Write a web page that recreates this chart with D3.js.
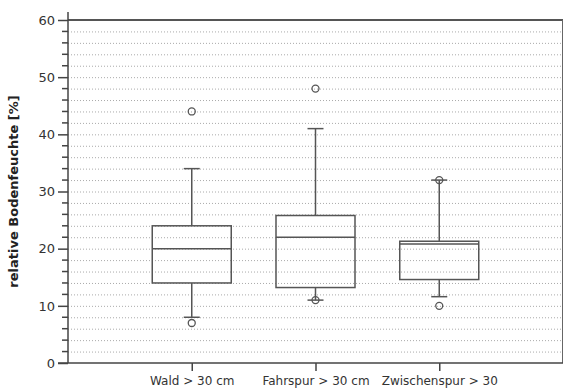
<!DOCTYPE html>
<html>
<head>
<meta charset="utf-8">
<script src="https://cdn.jsdelivr.net/npm/d3@7"></script>
<style>
  body { margin: 0; background: #fff; }
  text { font-family: "DejaVu Sans", sans-serif; }
</style>
</head>
<body>
<div id="chart"></div>
<script>
// box stats
const categories = ["Wald > 30 cm", "Fahrspur > 30 cm", "Zwischenspur > 30"];
const q1 = [14, 13.2, 14.6];
const median = [20, 22, 20.8];
const q3 = [24, 25.8, 21.3];
const whiskLow = [8, 11, 11.6];
const whiskHigh = [34, 41, 32];
const outliers = [[44, 7], [48, 11], [32, 10]];
const yTicks = [0, 10, 20, 30, 40, 50, 60];

const W = 564, H = 390;
const margin = {top: 20, right: 1, bottom: 27, left: 68};
const width = W - margin.left - margin.right,
      height = H - margin.top - margin.bottom;

const svg = d3.select("#chart").append("svg")
    .attr("width", W).attr("height", H)
    .append("g")
    .attr("transform", `translate(${margin.left}, ${margin.top})`);

const y = d3.scaleLinear().domain([0, 60]).range([height, 0]);
const x = d3.scalePoint().domain(categories).range([0, width]).padding(1);

const boxW = 79, capW = 16;
const lineCol = "#555";

// dotted grid every 2
svg.selectAll(".grid")
    .data(d3.range(2, 60, 2))
    .enter().append("line")
    .attr("x1", 0).attr("x2", width)
    .attr("y1", d => y(d) + 0.5).attr("y2", d => y(d) + 0.5)
    .attr("stroke", "#aaa")
    .attr("stroke-width", 1)
    .attr("stroke-dasharray", "1,2");

// top + right frame
svg.append("line").attr("x1", 0).attr("x2", width)
    .attr("y1", y(60)).attr("y2", y(60))
    .attr("stroke", "#555").attr("stroke-width", 2);
svg.append("line").attr("x1", width - 0.5).attr("x2", width - 0.5)
    .attr("y1", y(60)).attr("y2", height)
    .attr("stroke", "#666").attr("stroke-width", 1);

// y axis, major + minor
const yAxis = svg.append("g")
    .call(d3.axisLeft(y).tickValues(yTicks).tickSize(10).tickPadding(3))
yAxis.select(".domain").remove();
yAxis.selectAll(".tick line").attr("stroke", "#444").attr("stroke-width", 1.5);
yAxis.selectAll("text").attr("font-size", 13).attr("fill", "#333");

svg.selectAll(".minor")
    .data(d3.range(0, 61, 2).filter(d => d % 10 != 0))
    .enter().append("line")
    .attr("x1", -6).attr("x2", 0)
    .attr("y1", d => y(d)).attr("y2", d => y(d))
    .attr("stroke", "#444").attr("stroke-width", 1.5);

svg.append("line").attr("x1", 0).attr("x2", 0)
    .attr("y1", -8).attr("y2", height)
    .attr("stroke", "#444").attr("stroke-width", 1.5);

// x axis
const xAxis = svg.append("g")
    .attr("transform", `translate(0, ${height})`)
    .call(d3.axisBottom(x).tickSize(8).tickPadding(5));
xAxis.select(".domain").remove();
xAxis.selectAll(".tick line").attr("stroke", "#444").attr("stroke-width", 1.5);
xAxis.selectAll("text").attr("font-size", 12).attr("fill", "#333");
svg.append("line").attr("x1", -10).attr("x2", width)
    .attr("y1", height).attr("y2", height)
    .attr("stroke", "#444").attr("stroke-width", 1.5);

// y label
svg.append("text")
    .attr("transform", `translate(${-50}, ${height / 2}) rotate(-90)`)
    .attr("text-anchor", "middle")
    .attr("font-size", 13)
    .attr("font-weight", "bold")
    .attr("fill", "#222")
    .text("relative Bodenfeuchte [%]");

// boxes
const boxes = svg.selectAll(".box")
    .data(categories)
    .enter().append("g")
    .attr("class", "box");

boxes.append("line")
    .attr("x1", d => x(d)).attr("x2", d => x(d))
    .attr("y1", (d, i) => y(whiskHigh[i])).attr("y2", (d, i) => y(q3[i]))
    .attr("stroke", lineCol).attr("stroke-width", 1.5);
boxes.append("line")
    .attr("x1", d => x(d)).attr("x2", d => x(d))
    .attr("y1", (d, i) => y(q1[i])).attr("y2", (d, i) => y(whiskLow[i]))
    .attr("stroke", lineCol).attr("stroke-width", 1.5);
[whiskHigh, whiskLow].forEach(arr => {
    boxes.append("line")
        .attr("x1", d => x(d) - capW / 2).attr("x2", d => x(d) + capW / 2)
        .attr("y1", (d, i) => y(arr[i])).attr("y2", (d, i) => y(arr[i]))
        .attr("stroke", lineCol).attr("stroke-width", 1.5);
});
boxes.append("rect")
    .attr("x", d => x(d) - boxW / 2)
    .attr("y", (d, i) => y(q3[i]))
    .attr("width", boxW)
    .attr("height", (d, i) => y(q1[i]) - y(q3[i]))
    .attr("fill", "none")
    .attr("stroke", lineCol).attr("stroke-width", 1.5);
boxes.append("line")
    .attr("x1", d => x(d) - boxW / 2).attr("x2", d => x(d) + boxW / 2)
    .attr("y1", (d, i) => y(median[i])).attr("y2", (d, i) => y(median[i]))
    .attr("stroke", lineCol).attr("stroke-width", 1.5);

boxes.each(function(d, i) {
    d3.select(this).selectAll(".out")
        .data(outliers[i])
        .enter().append("circle")
        .attr("cx", x(d))
        .attr("cy", v => y(v))
        .attr("r", 3.5)
        .attr("fill", "none")
        .attr("stroke", lineCol).attr("stroke-width", 1.3);
});
</script>
</body>
</html>
